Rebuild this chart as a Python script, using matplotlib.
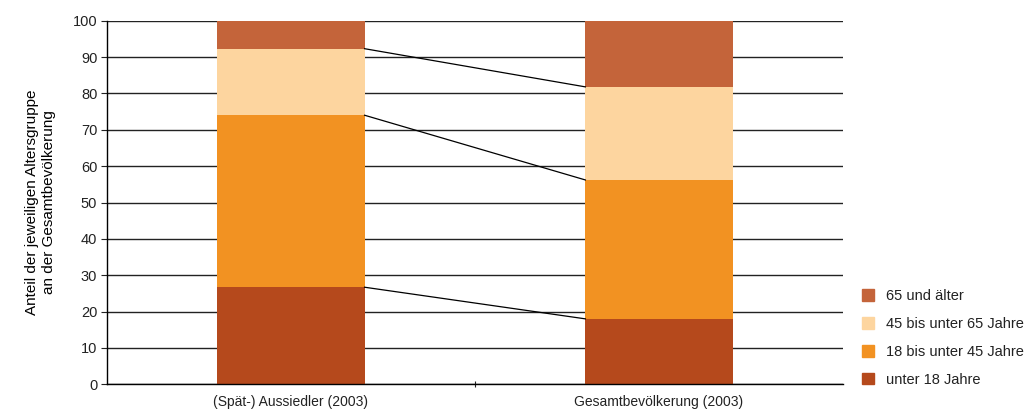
import matplotlib.pyplot as plt
from matplotlib.patches import Patch

plt.rcParams['font.family'] = ['Liberation Sans', 'DejaVu Sans']
plt.rcParams['text.color'] = '#222222'
plt.rcParams['xtick.color'] = '#222222'
plt.rcParams['ytick.color'] = '#222222'

# Anteile der Altersgruppen (in %)
gruppen = ['(Spät-) Aussiedler (2003)', 'Gesamtbevölkerung (2003)']
altersklassen = ['unter 18 Jahre', '18 bis unter 45 Jahre', '45 bis unter 65 Jahre', '65 und älter']
unter_18 = [26.7, 18.0]
von_18_bis_45 = [47.3, 38.2]
von_45_bis_65 = [18.3, 25.6]
ab_65 = [7.7, 18.2]
farben = ['#B5491C', '#F29222', '#FDD59F', '#C4643A']

werte = [unter_18, von_18_bis_45, von_45_bis_65, ab_65]

fig = plt.figure(figsize=(10.25, 4.19), dpi=100)
ax = fig.add_axes([0.1044, 0.0828, 0.718, 0.8678])

x = [0, 1]
breite = 0.4
unten = [0.0, 0.0]
grenzen = []
for w, f in zip(werte, farben):
    ax.bar(x, w, breite, bottom=unten, color=f, zorder=2)
    unten = [u + v for u, v in zip(unten, w)]
    grenzen.append(list(unten))

# Verbindungslinien zwischen den Säulen
for g in grenzen[:-1]:
    ax.plot([x[0] + breite / 2, x[1] - breite / 2], g, color='black', lw=0.9, zorder=3)

ax.set_xlim(-0.5, 1.5)
ax.set_ylim(0, 100)
ax.set_yticks(range(0, 101, 10))
ax.yaxis.grid(True, color='#222222', lw=1.0, zorder=0)
ax.set_axisbelow(True)
ax.set_xticks([0.5])
ax.set_xticklabels([''])
ax.set_xticks(x, minor=True)
ax.set_xticklabels(gruppen, minor=True, fontsize=10)
ax.tick_params(axis='x', which='minor', length=0, pad=8)
ax.tick_params(axis='x', which='major', length=4, direction='inout', width=0.8)
ax.tick_params(axis='y', length=4, width=0.8, labelsize=10.5, pad=3)
for s in ['top', 'right']:
    ax.spines[s].set_visible(False)
ax.spines['left'].set_linewidth(1.0)
ax.spines['bottom'].set_linewidth(1.0)

ax.set_ylabel('Anteil der jeweiligen Altersgruppe\nan der Gesamtbevölkerung', fontsize=11,
              labelpad=12, linespacing=1.3)

handles = [Patch(color=f, label=l) for f, l in zip(farben, altersklassen)][::-1]
fig.legend(handles=handles, loc='upper left', bbox_to_anchor=(0.841, 0.31), frameon=False,
           fontsize=10.5, handlelength=0.85, handleheight=0.85, handletextpad=0.8, labelspacing=0.95,
           borderaxespad=0, borderpad=0)

fig.savefig('out.png', dpi=100)
